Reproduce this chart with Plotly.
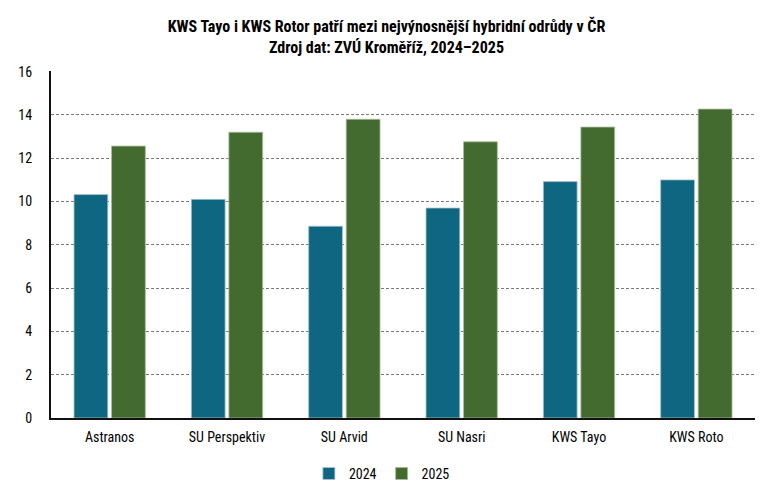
import plotly.graph_objects as go

odrudy = ["Astranos", "SU Perspektiv", "SU Arvid", "SU Nasri", "KWS Tayo", "KWS Roto"]
vynos_2024 = [10.32, 10.1, 8.86, 9.7, 10.92, 11.0]
vynos_2025 = [12.56, 13.2, 13.8, 12.76, 13.44, 14.27]

font_cond = "Liberation Sans Narrow, Roboto Condensed, DejaVu Sans Condensed, Arial Narrow, sans-serif"

fig = go.Figure()
fig.add_trace(
    go.Bar(
        x=odrudy,
        y=vynos_2024,
        name="2024",
        marker=dict(color="#0f6680", line=dict(color="#a9c3cc", width=0.8)),
    )
)
fig.add_trace(
    go.Bar(
        x=odrudy,
        y=vynos_2025,
        name="2025",
        marker=dict(color="#436a2f", line=dict(color="#a8bb9c", width=0.8)),
    )
)

fig.update_layout(
    width=773,
    height=495,
    paper_bgcolor="white",
    plot_bgcolor="white",
    font=dict(family=font_cond, size=14, color="#000000"),
    title=dict(
        text="<b>KWS Tayo i KWS Rotor patří mezi nejvýnosnější hybridní odrůdy v ČR</b><br>"
        "<b>Zdroj dat: ZVÚ Kroměříž, 2024–2025</b>",
        x=0.5,
        xanchor="center",
        y=0.935,
        yanchor="top",
        font=dict(family=font_cond, size=16, color="#000000"),
    ),
    barmode="group",
    bargap=0.36,
    bargroupgap=0.1,
    margin=dict(l=51, r=18, t=71, b=77, autoexpand=False),
    legend=dict(
        orientation="h",
        x=0.47,
        xanchor="center",
        y=-0.115,
        yanchor="top",
        font=dict(size=14),
        traceorder="normal",
        itemwidth=30,
    ),
    showlegend=True,
)

fig.update_yaxes(
    range=[0, 16.03],
    dtick=2,
    showgrid=True,
    gridcolor="#7a7a7a",
    griddash="3px,2px",
    gridwidth=1,
    showline=True,
    linecolor="#111111",
    linewidth=2,
    zeroline=False,
    ticks="",
    ticklabelstandoff=14,
    automargin=False,
    tickfont=dict(size=14),
)
fig.update_xaxes(
    showline=True,
    linecolor="#111111",
    linewidth=2,
    showgrid=False,
    ticks="",
    ticklabelstandoff=5,
    automargin=False,
    tickfont=dict(size=14),
)

# bez okraje stránky, aby graf seděl přesně v okně
fig.write_html(
    "out.html",
    config={"displayModeBar": False},
    post_script="document.body.style.margin='0';",
)
